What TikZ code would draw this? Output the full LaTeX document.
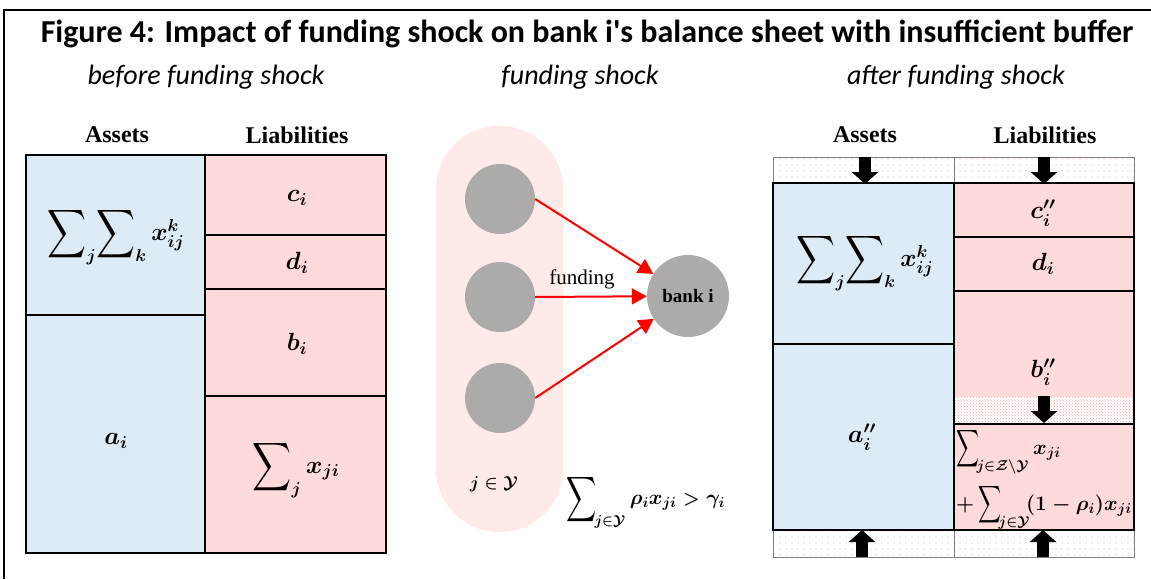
\documentclass[tikz,border=0pt]{standalone}
\usepackage{amsmath,amssymb,bm,graphicx}
\usepackage{fontspec}
\newfontfamily\calib{Carlito}
\newfontfamily\tnr{Liberation Serif}
\usetikzlibrary{arrows.meta,patterns,patterns.meta}
\newcommand{\bsum}[2]{\mathop{\vcenter{\hbox{\scalebox{#1}[#2]{$\displaystyle\sum$}}}}\nolimits}
\definecolor{assetblue}{HTML}{DDEBF7}
\definecolor{liabpink}{HTML}{FFDADA}
\definecolor{capsule}{HTML}{FFEAEA}
\definecolor{nodegray}{HTML}{ADAAAA}
\definecolor{dotblue}{HTML}{9DB8D8}
\definecolor{dotpink}{HTML}{F4A8A8}
\tikzset{
  asset/.style={fill=assetblue,draw=black,line width=2pt},
  liab/.style={fill=liabpink,draw=black,line width=2pt},
  mlabel/.style={font=\fontsize{27}{31}\selectfont\boldmath,inner sep=0pt},
  slabel/.style={font=\fontsize{20}{23}\selectfont\boldmath,inner sep=0pt},
  header/.style={font=\tnr\bfseries\fontsize{24}{28}\selectfont,inner sep=0pt},
  subtitle/.style={font=\calib\itshape\fontsize{28}{32}\selectfont,inner sep=0pt,anchor=base},
  bankcircle/.style={circle,fill=nodegray,minimum size=70pt,inner sep=0pt},
  fundarrow/.style={draw=red,line width=2pt,-{Triangle[width=16pt,length=15pt]}},
  blockarrow/.style={line width=12pt,-{Triangle[width=26pt,length=12pt]}},
  bandblue/.style={fill=white,pattern={Dots[radius=0.6pt,distance=6pt]},pattern color=dotblue},
  bandpink/.style={fill=white,pattern={Dots[radius=0.6pt,distance=6pt]},pattern color=dotpink},
}
\begin{document}
\begin{tikzpicture}[x=1pt,y=-1pt]
\useasboundingbox (0,0) rectangle (1151,579);
% frame
\draw[line width=2pt] (4,579) -- (4,10) -- (1151,10);
% title
\node[inner sep=0pt,anchor=base,font=\calib\bfseries\fontsize{32}{36}\selectfont] (title) at (587,42)
  {Figure 4: Impact of funding shock on bank i's balance sheet with insufficient buffer};
\node[subtitle] (sub1) at (206,84) {before funding shock};
\node[subtitle] (sub2) at (580,84) {funding shock};
\node[subtitle] (sub3) at (956,84) {after funding shock};

% ---------- left balance sheet ----------
\node[header] (hA1) at (117,135) {Assets};
\node[header] (hL1) at (297,135) {Liabilities};
\draw[asset] (26,155) rectangle (205,315);
\draw[asset] (26,315) rectangle (205,553);
\draw[liab] (205,155) rectangle (386,235);
\draw[liab] (205,235) rectangle (386,289);
\draw[liab] (205,289) rectangle (386,396);
\draw[liab] (205,396) rectangle (386,553);
\draw[line width=2.5pt] (26,155) rectangle (386,553);
\node[mlabel] (lx) at (116,236) {$\bsum{1}{1.25}_j\!\bsum{1}{1.25}_k x_{ij}^k$};
\node[mlabel] (la) at (116,441) {$a_i$};
\node[mlabel] (lc) at (297,198) {$c_i$};
\node[mlabel] (ld) at (297,263) {$d_i$};
\node[mlabel] (lb) at (297,344) {$b_i$};
\node[mlabel] (ls) at (296,469) {$\bsum{1}{1.25}_j x_{ji}$};

% ---------- middle ----------
\fill[capsule,rounded corners=63pt] (436,126) rectangle (563,532);
\node[bankcircle] (n1) at (500,199) {};
\node[bankcircle] (n2) at (500,297) {};
\node[bankcircle] (n3) at (500,398) {};
\node[bankcircle,minimum size=82pt,font=\tnr\bfseries\fontsize{19}{22}\selectfont] (bank) at (688,296) {bank i};
\draw[fundarrow] (n1.east) -- (bank);
\draw[fundarrow] (n2.east) -- (bank);
\draw[fundarrow] (n3.east) -- (bank);
\node[inner sep=0pt,font=\tnr\fontsize{21}{24}\selectfont] (fund) at (582,279) {funding};
\node[inner sep=0pt,font=\fontsize{19}{22}\selectfont\boldmath] (jy) at (494,484) {$j\in\mathcal{Y}$};
\node[inner sep=0pt,font=\fontsize{21}{24}\selectfont\boldmath] (cond) at (646,501)
  {$\bsum{1}{1.5}_{\!j\in\mathcal{Y}}\rho_i x_{ji}\mathrel{\scalebox{0.9}{$>$}}\gamma_i$};

% ---------- right balance sheet ----------
\node[header] (hA2) at (865,135) {Assets};
\node[header] (hL2) at (1045,135) {Liabilities};
\draw[bandblue,draw=gray,line width=1pt] (773,157) rectangle (954,183);
\draw[bandpink,draw=gray,line width=1pt] (954,157) rectangle (1134,183);
\draw[bandblue,draw=gray,line width=1pt] (773,530) rectangle (954,557);
\draw[bandpink,draw=gray,line width=1pt] (954,530) rectangle (1134,557);
\draw[asset] (773,183) rectangle (954,344);
\draw[asset] (773,344) rectangle (954,530);
\draw[liab] (954,183) rectangle (1134,237);
\draw[liab] (954,237) rectangle (1134,291);
\draw[liab] (954,291) rectangle (1134,424);
\fill[white] (955,397) rectangle (1133,423);
\fill[pattern=crosshatch dots,pattern color=dotpink] (955,397) rectangle (1133,423);
\draw[liab] (954,424) rectangle (1134,530);
\draw[line width=2.5pt] (773,183) rectangle (1134,530);
\draw[line width=2pt] (954,291) -- (954,424);
\node[mlabel] (rx) at (865,262) {$\bsum{1}{1.25}_j\!\bsum{1}{1.25}_k x_{ij}^k$};
\node[mlabel] (ra) at (862,437) {$a_i''$};
\node[mlabel] (rc) at (1043,213) {$c_i''$};
\node[mlabel] (rd) at (1043,264) {$d_i$};
\node[mlabel] (rb) at (1043,372) {$b_i''$};
\node[slabel,anchor=base west] (rs) at (956,510)
  {\rlap{\raisebox{56pt}{$\bsum{0.8}{1.3}_{\!j\in\mathcal{Z}\setminus\mathcal{Y}} x_{ji}$}}%
   $+\bsum{0.8}{1.3}_{\!j\in\mathcal{Y}}\!(1-\rho_i)x_{ji}$};
% block arrows
\draw[blockarrow] (865,157) -- (865,184);
\draw[blockarrow] (1044,157) -- (1044,184);
\draw[blockarrow] (1044,396) -- (1044,423);
\draw[blockarrow] (862,557) -- (862,530);
\draw[blockarrow] (1043,557) -- (1043,530);
\end{tikzpicture}
\end{document}
